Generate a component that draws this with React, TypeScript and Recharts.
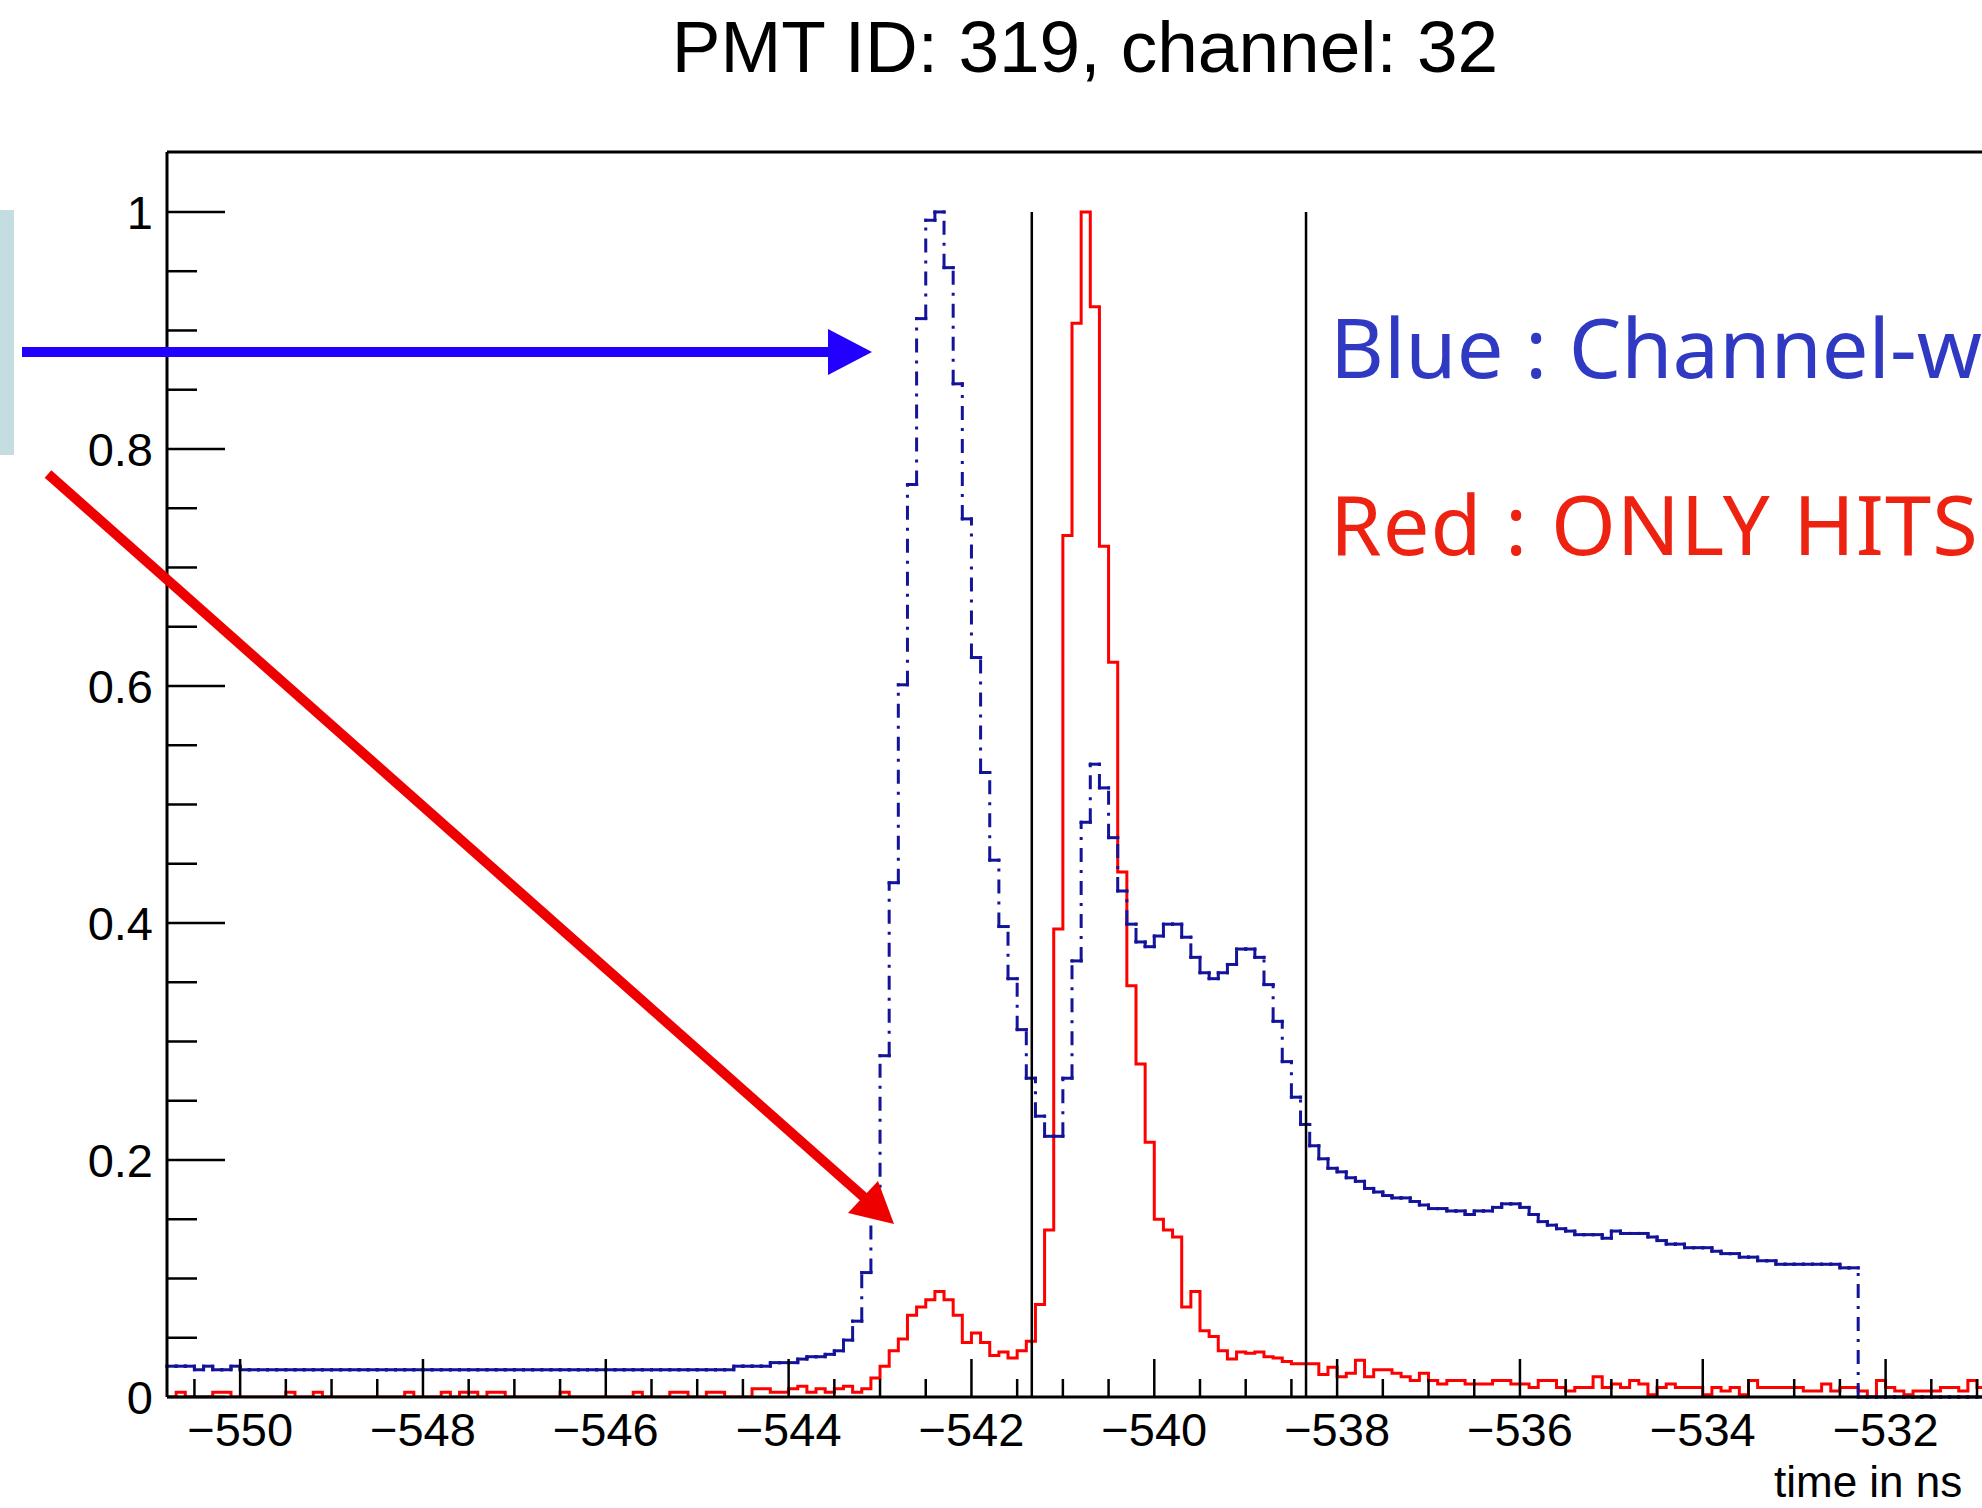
import { ComposedChart, XAxis, YAxis, Line, Scatter, ErrorBar, ReferenceLine } from 'recharts';

// histogram binning (ns)
const binStart = -550.8;
const binWidth = 0.1;

// "Channel-wise" histogram (blue), one value per 0.1 ns bin starting at -550.8
const blueHist = [
    0.026, 0.026, 0.026, 0.023, 0.026, 0.023, 0.023, 0.026, 0.023, 0.023,
    0.023, 0.023, 0.023, 0.023, 0.023, 0.023, 0.023, 0.023, 0.023, 0.023,
    0.023, 0.023, 0.023, 0.023, 0.023, 0.023, 0.023, 0.023, 0.023, 0.023,
    0.023, 0.023, 0.023, 0.023, 0.023, 0.023, 0.023, 0.023, 0.023, 0.023,
    0.023, 0.023, 0.023, 0.023, 0.023, 0.023, 0.023, 0.023, 0.023, 0.023,
    0.023, 0.023, 0.023, 0.023, 0.023, 0.023, 0.023, 0.023, 0.023, 0.023,
    0.023, 0.023, 0.026, 0.026, 0.026, 0.026, 0.029, 0.029, 0.029, 0.032,
    0.034, 0.034, 0.036, 0.039, 0.048, 0.064, 0.105, 0.158, 0.288, 0.434,
    0.601, 0.770, 0.910, 0.993, 1.0, 0.953, 0.855, 0.741, 0.624, 0.527,
    0.453, 0.397, 0.353, 0.310, 0.269, 0.237, 0.220, 0.220, 0.269, 0.368,
    0.485, 0.534, 0.514, 0.472, 0.427, 0.399, 0.384, 0.380, 0.389, 0.399,
    0.399, 0.388, 0.371, 0.358, 0.353, 0.358, 0.365, 0.378, 0.378, 0.371,
    0.348, 0.317, 0.283, 0.253, 0.230, 0.212, 0.201, 0.193, 0.190, 0.185,
    0.182, 0.176, 0.173, 0.170, 0.168, 0.168, 0.165, 0.162, 0.159, 0.159,
    0.157, 0.157, 0.154, 0.157, 0.157, 0.160, 0.163, 0.163, 0.160, 0.154,
    0.148, 0.145, 0.142, 0.140, 0.137, 0.137, 0.137, 0.134, 0.140, 0.138,
    0.138, 0.138, 0.135, 0.132, 0.129, 0.129, 0.126, 0.126, 0.126, 0.123,
    0.121, 0.121, 0.118, 0.118, 0.115, 0.115, 0.112, 0.112, 0.112, 0.112,
    0.112, 0.112, 0.112, 0.109, 0.109, 0, 0, 0, 0, 0,
    0, 0, 0, 0, 0, 0, 0, 0, 0, 0,
    0, 0, 0, 0,
];

// "ONLY HITS" histogram (red), same binning
const redHist = [
    0, 0.004, 0, 0, 0, 0.004, 0.004, 0, 0, 0,
    0, 0, 0, 0.004, 0, 0, 0.004, 0, 0, 0,
    0, 0, 0, 0, 0, 0, 0.004, 0, 0, 0,
    0.004, 0, 0.004, 0.004, 0, 0.004, 0.004, 0, 0, 0,
    0, 0, 0, 0.004, 0, 0, 0, 0, 0, 0,
    0, 0.004, 0, 0, 0, 0.004, 0.004, 0, 0, 0.004,
    0.004, 0, 0, 0, 0.007, 0.007, 0.004, 0.004, 0.007, 0.009,
    0.004, 0.007, 0.004, 0.007, 0.009, 0.004, 0.007, 0.016, 0.026, 0.039,
    0.049, 0.069, 0.076, 0.082, 0.089, 0.082, 0.069, 0.046, 0.054, 0.046,
    0.035, 0.038, 0.033, 0.039, 0.047, 0.078, 0.141, 0.395, 0.727, 0.906,
    1.0, 0.92, 0.718, 0.620, 0.443, 0.347, 0.281, 0.215, 0.150, 0.141,
    0.135, 0.076, 0.089, 0.056, 0.051, 0.039, 0.032, 0.038, 0.037, 0.038,
    0.034, 0.033, 0.030, 0.028, 0.028, 0.028, 0.019, 0.025, 0.017, 0.020,
    0.031, 0.017, 0.023, 0.023, 0.020, 0.017, 0.014, 0.020, 0.014, 0.011,
    0.014, 0.014, 0.011, 0.011, 0.011, 0.014, 0.014, 0.011, 0.011, 0.008,
    0.014, 0.014, 0.008, 0.005, 0.008, 0.008, 0.017, 0.008, 0.011, 0.008,
    0.014, 0.011, 0.002, 0.008, 0.011, 0.008, 0.008, 0.008, 0.002, 0.008,
    0.005, 0.008, 0.002, 0.014, 0.008, 0.008, 0.008, 0.008, 0.008, 0.005,
    0.005, 0.011, 0.005, 0.008, 0.008, 0.005, 0, 0.014, 0.008, 0.005,
    0.002, 0.005, 0.005, 0.005, 0.008, 0.008, 0.005, 0.014, 0.008, 0.008,
    0.005, 0.005, 0.008, 0.005,
];

// time window markers
const cutLines = [-541.34, -538.34];

const xMajorTicks = [-550, -548, -546, -544, -542, -540, -538, -536, -534, -532];
const xMinorTicks = [
    -550.5, -549.5, -549, -548.5, -547.5, -547, -546.5, -545.5, -545, -544.5,
    -543.5, -543, -542.5, -541.5, -541, -540.5, -539.5, -539, -538.5, -537.5,
    -537, -536.5, -535.5, -535, -534.5, -533.5, -533, -532.5, -531.5, -531, -530.5,
];
const yMajorTicks = [0, 0.2, 0.4, 0.6, 0.8, 1];
const yMinorTicks = [0.05, 0.1, 0.15, 0.25, 0.3, 0.35, 0.45, 0.5, 0.55, 0.65, 0.7, 0.75, 0.85, 0.9, 0.95];

const X_DOMAIN: [number, number] = [-550.8, -529.6];
const Y_DOMAIN: [number, number] = [0, 1.0506];

const edge = (i: number) => Math.round((binStart + i * binWidth) * 10) / 10;

// ROOT-style histogram pieces: flat bin tops and the risers between bins
const blueTops = blueHist.map((v, i) => ({ x: edge(i) + binWidth / 2, y: v, half: binWidth / 2 }));
const blueRisers = blueHist
    .slice(1)
    .map((v, k) => ({ x: edge(k + 1), y: Math.min(v, blueHist[k]), span: [0, Math.abs(v - blueHist[k])] }))
    .filter(d => d.span[1] > 0);
const redSteps = [
    ...redHist.map((v, i) => ({ x: edge(i), y: v })),
    { x: edge(redHist.length), y: redHist[redHist.length - 1] },
];
const xAllTicks = [...xMajorTicks, ...xMinorTicks].sort((a, b) => a - b);

const FONT = "'Liberation Sans', Arial, Helvetica, sans-serif";
const BLUE = '#14149a';
const RED = '#ff0000';
const X_LABEL_GAP = 16;

const fmtX = (v: number) => (v < 0 ? '\u2212' + Math.abs(v) : String(v));
const fmtY = (v: number) => (v === 0 || v === 1 ? String(v) : v.toFixed(1));
const NoMark = () => <g />;
const NoLabel = () => <g />;

// x tick: inward tick mark (long for major, short for minor) + label under majors
const XTick = (props: any) => {
    const { x, y, payload } = props;
    const v = payload.value;
    const major = xMajorTicks.includes(v);
    const axisY = y - X_LABEL_GAP;
    return (
        <g>
            <line x1={x} y1={axisY} x2={x} y2={axisY - (major ? 38 : 18)} stroke="#000" strokeWidth={2.5} />
            {major && (
                <text x={x} y={y} dy="0.71em" textAnchor="middle" fontSize={47} fontFamily={FONT} fill="#000">
                    {fmtX(v)}
                </text>
            )}
        </g>
    );
};

const tickStroke = { stroke: '#000', strokeWidth: 2.5 };

export default function App() {
    return (
        <div style={{ position: 'fixed', left: 0, top: 0, width: 1982, height: 1508, overflow: 'hidden', background: '#fff' }}>
            <ComposedChart width={2125} height={1508} margin={{ top: 151, right: 20, bottom: 110, left: 166 }}>
                <Line
                    data={redSteps}
                    xAxisId="main"
                    yAxisId="main"
                    dataKey="y"
                    type="stepAfter"
                    stroke={RED}
                    strokeWidth={3}
                    dot={false}
                    isAnimationActive={false}
                />
                <Scatter data={blueTops} xAxisId="main" yAxisId="main" dataKey="y" shape={NoMark} isAnimationActive={false}>
                    <ErrorBar
                        dataKey="half"
                        direction="x"
                        width={0}
                        stroke={BLUE}
                        strokeWidth={3}
                        strokeLinecap="square"
                        isAnimationActive={false}
                    />
                </Scatter>
                <Scatter data={blueRisers} xAxisId="main" yAxisId="main" dataKey="y" shape={NoMark} isAnimationActive={false}>
                    <ErrorBar
                        dataKey="span"
                        direction="y"
                        width={0}
                        stroke={BLUE}
                        strokeWidth={3}
                        strokeDasharray="14 8 3 8"
                        isAnimationActive={false}
                    />
                </Scatter>
                {cutLines.map(c => (
                    <ReferenceLine
                        key={c}
                        xAxisId="main"
                        yAxisId="main"
                        segment={[{ x: c, y: 0 }, { x: c, y: 1 }]}
                        stroke="#000"
                        strokeWidth={2.5}
                    />
                ))}

                <XAxis
                    xAxisId="main"
                    type="number"
                    dataKey="x"
                    domain={X_DOMAIN}
                    allowDataOverflow
                    ticks={xAllTicks}
                    interval={0}
                    height={1}
                    tickSize={0}
                    tickMargin={X_LABEL_GAP}
                    tickLine={false}
                    axisLine={{ stroke: '#000', strokeWidth: 3 }}
                    tick={XTick}
                />
                <XAxis
                    xAxisId="frame"
                    type="number"
                    orientation="top"
                    domain={X_DOMAIN}
                    allowDataOverflow
                    height={1}
                    tick={false}
                    tickLine={false}
                    axisLine={{ stroke: '#000', strokeWidth: 3 }}
                />

                <YAxis
                    yAxisId="main"
                    type="number"
                    domain={Y_DOMAIN}
                    allowDataOverflow
                    ticks={yMajorTicks}
                    interval={0}
                    width={1}
                    tickSize={0}
                    tickMargin={14}
                    tickLine={false}
                    axisLine={{ stroke: '#000', strokeWidth: 3 }}
                    tick={{ fontSize: 47, fill: '#000', fontFamily: FONT }}
                    tickFormatter={fmtY}
                />
                <YAxis
                    yAxisId="yMajor"
                    type="number"
                    domain={Y_DOMAIN}
                    allowDataOverflow
                    ticks={yMajorTicks}
                    interval={0}
                    width={1}
                    mirror
                    tickSize={58}
                    tick={NoLabel}
                    axisLine={false}
                    tickLine={tickStroke}
                />
                <YAxis
                    yAxisId="yMinor"
                    type="number"
                    domain={Y_DOMAIN}
                    allowDataOverflow
                    ticks={yMinorTicks}
                    interval={0}
                    width={1}
                    mirror
                    tickSize={29}
                    tick={NoLabel}
                    axisLine={false}
                    tickLine={tickStroke}
                />
            </ComposedChart>

            <svg width={1982} height={1508} style={{ position: 'absolute', left: 0, top: 0, pointerEvents: 'none' }}>
                <text x={1085} y={72} textAnchor="middle" fontFamily={FONT} fontSize={73} fill="#000">
                    PMT ID: 319, channel: 32
                </text>
                <rect x={0} y={210} width={14} height={245} fill="#c4dde0" />
                <line x1={22} y1={352} x2={830} y2={352} stroke="#2200ff" strokeWidth={10} />
                <polygon points="828,329 872,352 828,375" fill="#2200ff" />
                <line x1={48} y1={474} x2={866} y2={1199} stroke="#ee0000" strokeWidth={10} />
                <polygon points="894,1224 848,1213 878,1181" fill="#ee0000" />
                <text x={1330} y={378} fontFamily="'Noto Sans', sans-serif" fontSize={83} fill="#3039c2">
                    Blue : Channel-w
                </text>
                <text x={1330} y={555} fontFamily="'Noto Sans', sans-serif" fontSize={83} fill="#ee2211" letterSpacing={1}>
                    Red : ONLY HITS
                </text>
                <text x={1774} y={1497} fontFamily={FONT} fontSize={44} fill="#000">
                    time in ns
                </text>
            </svg>
        </div>
    );
}
